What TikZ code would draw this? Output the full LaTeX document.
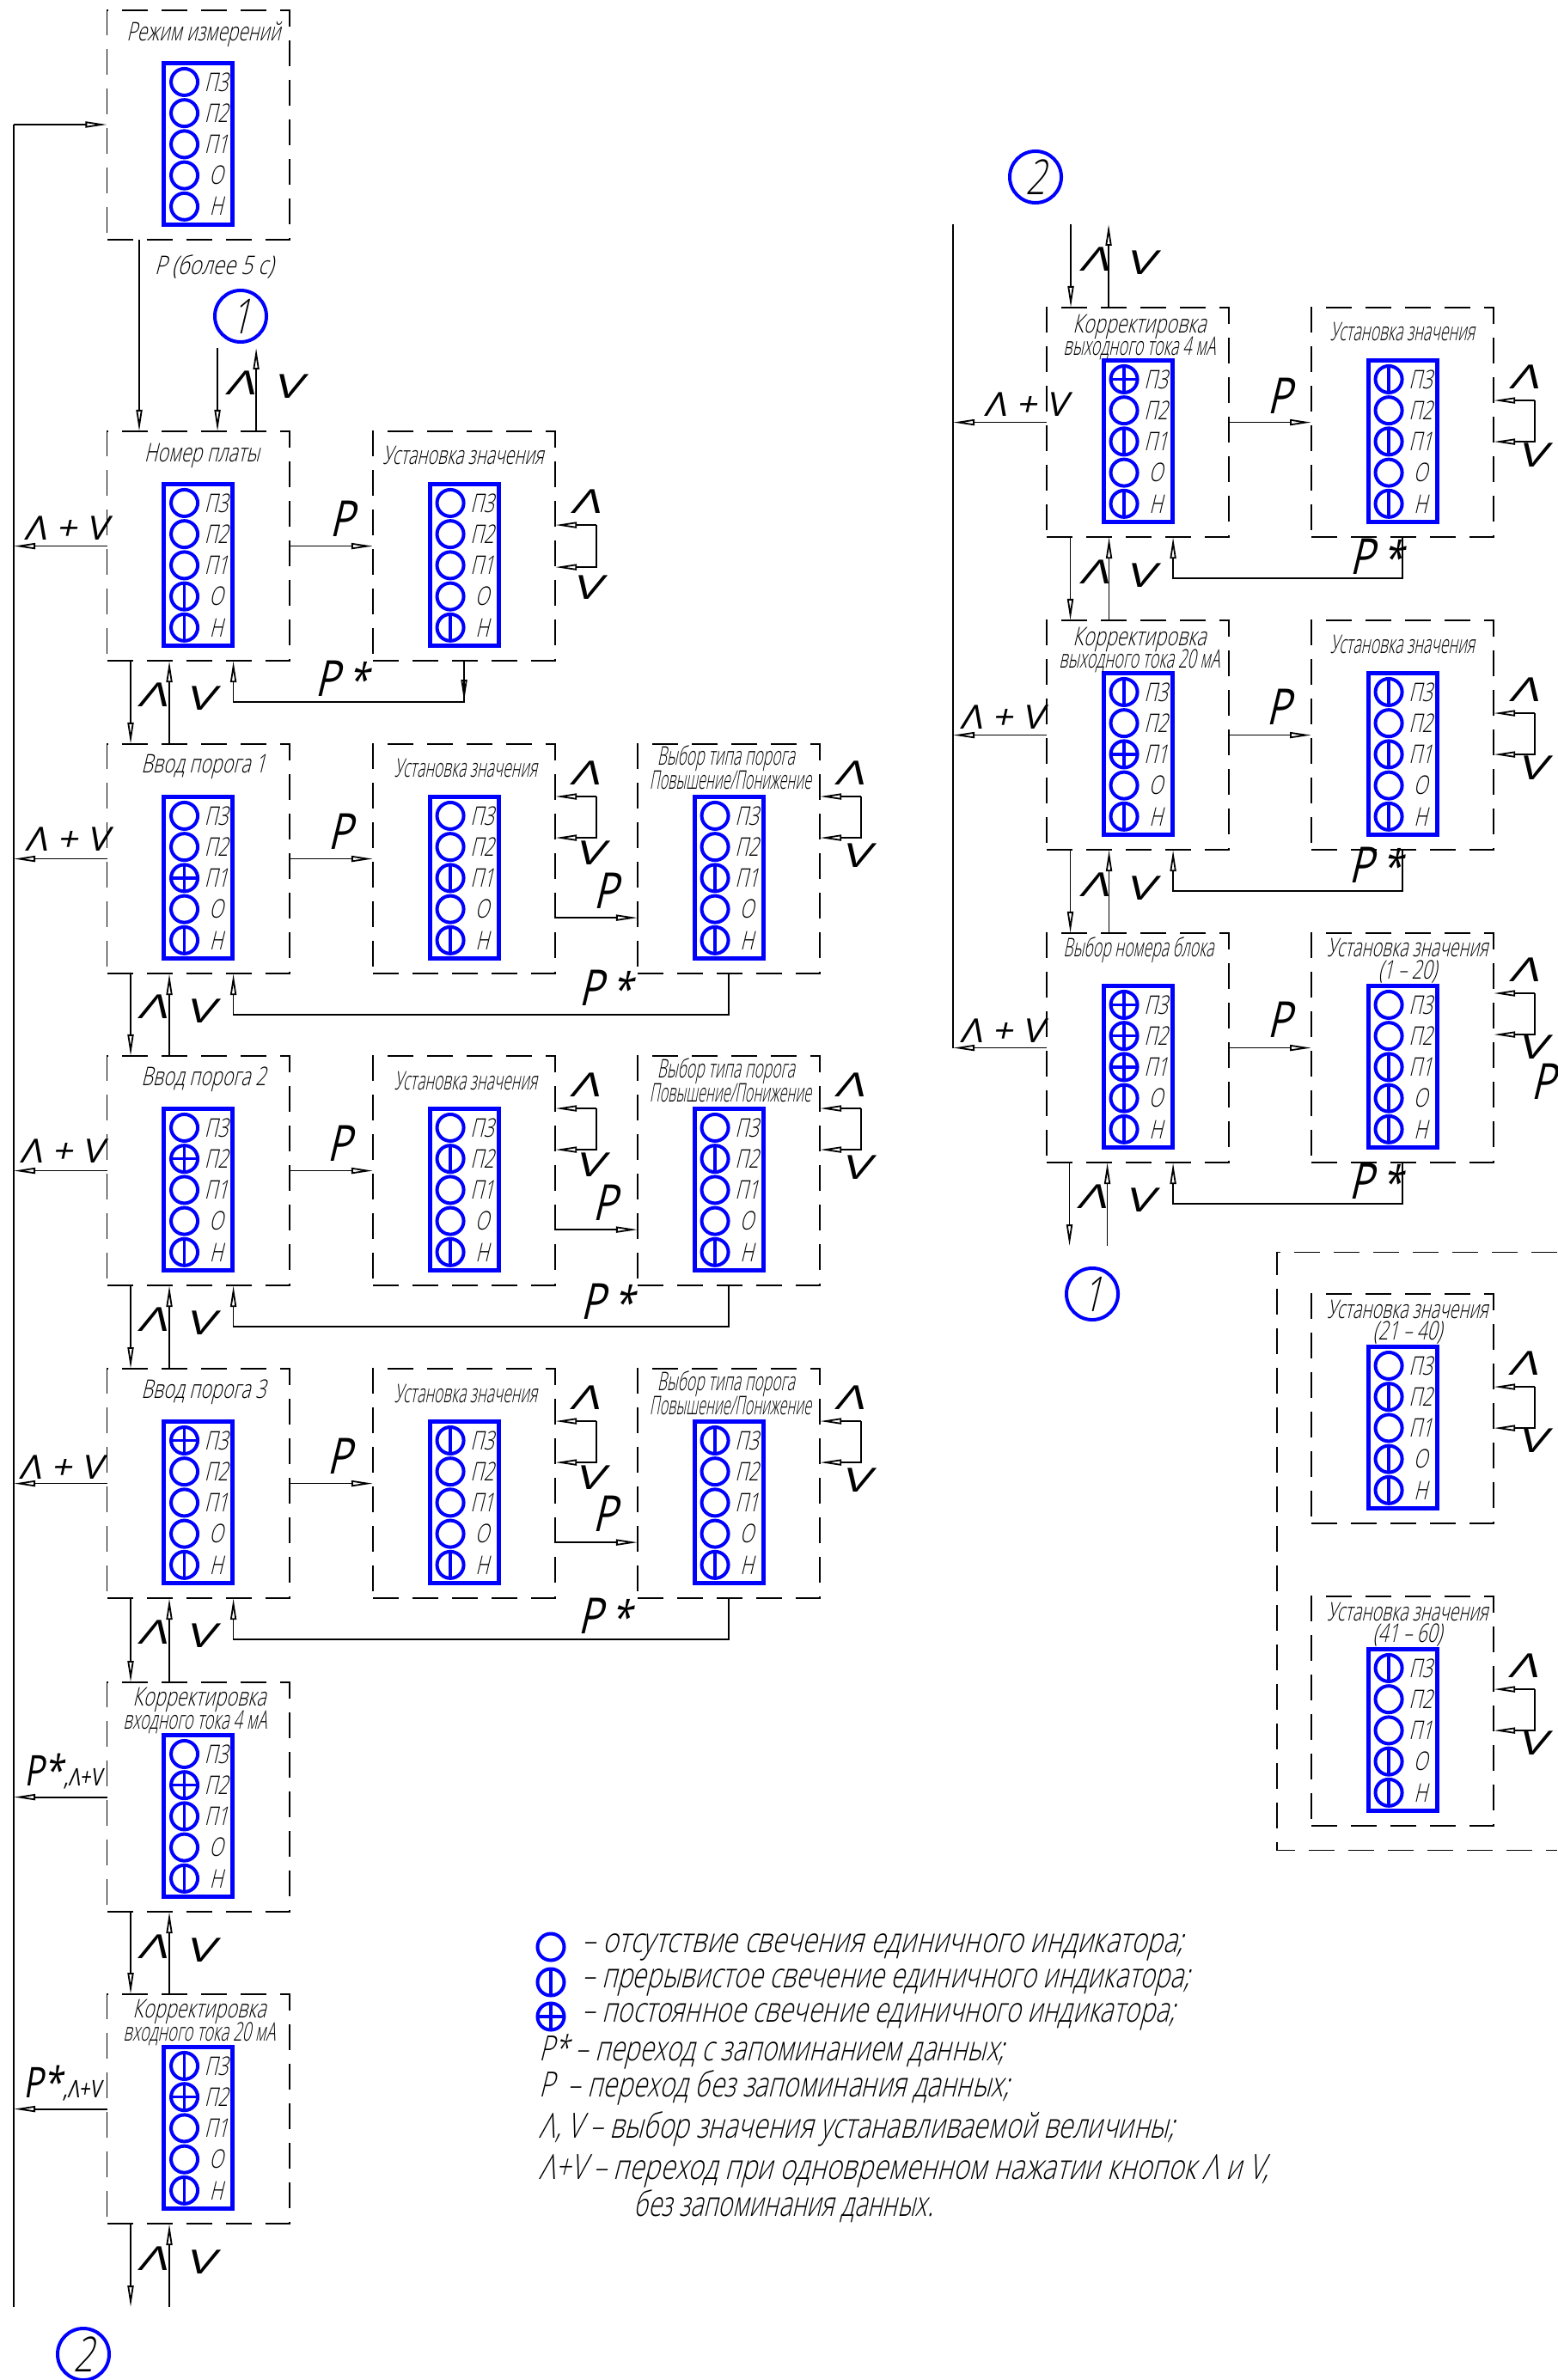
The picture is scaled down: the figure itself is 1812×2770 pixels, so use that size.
\documentclass[tikz,border=0pt]{standalone}
\usepackage{fontspec}
\usepackage{graphicx}
\usetikzlibrary{arrows.meta}
\newfontfamily\gostfont[FakeSlant=.24,FakeStretch=.72]{Open Sans Light}
\newfontfamily\bigfont[FakeSlant=.24,FakeStretch=.8]{Open Sans}
\newfontfamily\keyfont[FakeSlant=.2]{Open Sans}
\newcommand\fitw[2]{\resizebox{#1cm}{\height}{#2}}
\tikzset{
  modebox/.style={draw,dash pattern=on .30cm off .16cm,line width=.018cm,minimum width=2.12cm,minimum height=2.67cm,inner sep=0pt,outer sep=0pt,anchor=north west},
  ledpanel/.style={draw=blue,line width=.05cm,minimum width=.8cm,minimum height=1.88cm,inner sep=0pt},
  ledoff/.style={circle,draw=blue,line width=.04cm,minimum size=.31cm,inner sep=0pt},
  ledblink/.style={ledoff,path picture={\draw[blue,line width=.035cm] (path picture bounding box.north) -- (path picture bounding box.south);}},
  ledcross/.style={ledoff,path picture={\draw[blue,line width=.035cm] (path picture bounding box.north) -- (path picture bounding box.south) (path picture bounding box.west) -- (path picture bounding box.east);}},
  ledlabel/.style={inner sep=0pt,font=\gostfont\fontsize{8.5}{8.5}\selectfont},
  titletext/.style={inner sep=0pt,font=\gostfont\fontsize{8.5}{9}\selectfont},
  keytext/.style={inner sep=0pt,font=\keyfont\fontsize{11}{11}\selectfont},
  bigtext/.style={inner sep=0pt,font=\bigfont\fontsize{16.5}{16.5}\selectfont},
  legendtext/.style={inner sep=0pt,anchor=west,font=\gostfont\fontsize{11.5}{12}\selectfont},
  refmark/.style={circle,draw=blue,line width=.04cm,minimum size=.6cm,inner sep=0pt,font=\gostfont\fontsize{16}{16}\selectfont},
  flow/.style={line width=.018cm,-{Triangle[open,length=.25cm,width=.07cm]}}
}
\newcommand\modepanel[4]{%
  \node[modebox] (#1) at (#2,#3) {};
  \node[ledpanel] (#1p) at ([yshift=-1.555cm]#1.north) {};
  \foreach \st [count=\i from 0] in {#4} {
    \node[led\st] (#1l\i) at ([xshift=-.16cm,yshift=-.834cm-\i*.362cm]#1.north) {};
  }
  \foreach \tx [count=\i from 0] in {П3,П2,П1,О,Н} {
    \node[ledlabel] (#1t\i) at ([xshift=.37cm]#1l\i.center) {\tx};
  }
}
% side buttons, offsets from the top of the box
\newcommand\sideloop[3]{%
  \coordinate (#1u) at ([yshift=-#2cm]#1.north east);
  \coordinate (#1d) at ([yshift=-#3cm]#1.north east);
  \draw[flow] ([xshift=.48cm]#1u) -- (#1u);
  \draw[flow] ([xshift=.48cm]#1u) -- ([xshift=.48cm]#1d) -- (#1d);
}
\newcommand\updown[2]{%
  \draw[flow] ([xshift=.275cm]#1.south west) -- ([xshift=.275cm]#2.north west);
  \draw[flow] ([xshift=.725cm]#2.north west) -- ([xshift=.725cm]#1.south west);
}
\newcommand\pstar[2]{%
  \draw[flow] (#1.south) -- ++(0,48) -| ([xshift=1.47cm]#2.south west);
}
\begin{document}
\begin{tikzpicture}[x=.01cm,y=-.01cm]
\useasboundingbox (0,0) rectangle (1812,2770);
\coordinate (busL) at (16,145);
\coordinate (busR) at (1109,261);

% left column
\modepanel{m0}{124.5}{12}{off,off,off,off,off}
\modepanel{m1}{124.5}{502}{off,off,off,blink,blink}
\modepanel{s1}{434}{502}{off,off,off,off,blink}
\modepanel{m2}{124.5}{866}{off,off,cross,off,blink}
\modepanel{s2}{434}{866}{off,off,blink,off,blink}
\modepanel{k2}{742}{866}{off,off,blink,off,blink}
\modepanel{m3}{124.5}{1229}{off,cross,off,off,blink}
\modepanel{s3}{434}{1229}{off,blink,off,off,blink}
\modepanel{k3}{742}{1229}{off,blink,off,off,blink}
\modepanel{m4}{124.5}{1593}{cross,off,off,off,blink}
\modepanel{s4}{434}{1593}{blink,off,off,off,blink}
\modepanel{k4}{742}{1593}{blink,off,off,off,blink}
\modepanel{m5}{124.5}{1958}{off,cross,blink,off,blink}
\modepanel{m6}{124.5}{2321}{blink,cross,off,off,blink}

% right column
\modepanel{r1}{1218}{358}{cross,off,blink,off,blink}
\modepanel{t1}{1526}{358}{blink,off,blink,off,blink}
\modepanel{r2}{1218}{722}{blink,off,cross,off,blink}
\modepanel{t2}{1526}{722}{blink,off,blink,off,blink}
\modepanel{r3}{1218}{1086}{cross,cross,cross,blink,blink}
\modepanel{t3}{1526}{1086}{off,off,blink,blink,blink}
\modepanel{u1}{1526}{1506}{off,blink,off,blink,blink}
\modepanel{u2}{1526}{1858}{blink,off,off,blink,blink}
\draw[modebox] (1812,1457.5) -- (1486,1457.5) -- (1486,2153.5) -- (1812,2153.5);

% titles
\node[titletext] (h0) at (237,40) {\fitw{1.79}{Режим измерений}};
\node[titletext] (h1) at (235,530) {\fitw{1.34}{Номер платы}};
\node[titletext] (h1s) at (539,530) {\fitw{1.87}{Установка значения}};
\foreach \nm/\yy/\ttl in {2/892/Ввод порога 1,3/1256/Ввод порога 2,4/1620/Ввод порога 3} {
  \node[titletext] (h\nm) at (237,\yy) {\fitw{1.45}{\ttl}};
  \node[titletext] (h\nm s) at (542,\yy+2) {\fitw{1.66}{Установка значения}};
  \node[titletext] (h\nm a) at (845,\yy-9) {\fitw{1.6}{Выбор типа порога}};
  \node[titletext] (h\nm b) at (850,\yy+16) {\fitw{1.88}{Повышение/Понижение}};
}
\node[titletext] (h5a) at (232,1978) {\fitw{1.55}{Корректировка}};
\node[titletext] (h5b) at (227,2004) {\fitw{1.67}{входного тока 4 мА}};
\node[titletext] (h6a) at (232,2341) {\fitw{1.55}{Корректировка}};
\node[titletext] (h6b) at (232,2367) {\fitw{1.77}{входного тока 20 мА}};
\node[titletext] (g1a) at (1326,380) {\fitw{1.55}{Корректировка}};
\node[titletext] (g1b) at (1326,405) {\fitw{1.77}{выходного тока 4 мА}};
\node[titletext] (g2a) at (1326,744) {\fitw{1.55}{Корректировка}};
\node[titletext] (g2b) at (1326,769) {\fitw{1.87}{выходного тока 20 мА}};
\node[titletext] (g3) at (1325,1106) {\fitw{1.75}{Выбор номера блока}};
\node[titletext] (q1) at (1632,386) {\fitw{1.68}{Установка значения}};
\node[titletext] (q2) at (1632,750) {\fitw{1.68}{Установка значения}};
\node[titletext] (q3a) at (1638,1103) {\fitw{1.87}{Установка значения}};
\node[titletext] (q3b) at (1638,1131) {\fitw{.68}{(1 – 20)}};
\node[titletext] (q4a) at (1638,1524) {\fitw{1.87}{Установка значения}};
\node[titletext] (q4b) at (1638,1551) {\fitw{.8}{(21 – 40)}};
\node[titletext] (q5a) at (1638,1876) {\fitw{1.87}{Установка значения}};
\node[titletext] (q5b) at (1638,1903) {\fitw{.8}{(41 – 60)}};

% left bus
\draw[flow] (busL) -- (m0.west |- busL);
\draw[line width=.018cm] (busL) -- (16,2685);
\foreach \nm in {m1,m2,m3,m4,m5,m6} {
  \draw[flow] (\nm.west) -- (\nm.west -| busL);
}
\draw[line width=.018cm] (busR) -- (busR |- r3.west);
\foreach \nm in {r1,r2,r3} {
  \draw[flow] (\nm.west) -- (\nm.west -| busR);
}

% moves between the modes
\draw[flow] ([xshift=.375cm]m0.south west) -- ([xshift=.375cm]m1.north west);
\draw[flow] ([xshift=1.285cm,yshift=.97cm]m1.north west) -- ([xshift=1.285cm]m1.north west);
\draw[flow] ([xshift=1.735cm]m1.north west) -- ([xshift=1.735cm,yshift=.97cm]m1.north west);
\updown{m1}{m2}
\updown{m2}{m3}
\updown{m3}{m4}
\updown{m4}{m5}
\updown{m5}{m6}
\draw[flow] ([xshift=.275cm]m6.south west) -- ([xshift=.275cm,yshift=-.97cm]m6.south west);
\draw[flow] ([xshift=.725cm,yshift=-.97cm]m6.south west) -- ([xshift=.725cm]m6.south west);
\draw[flow] ([xshift=.28cm,yshift=.97cm]r1.north west) -- ([xshift=.28cm]r1.north west);
\draw[flow] ([xshift=.72cm]r1.north west) -- ([xshift=.72cm,yshift=.97cm]r1.north west);
\updown{r1}{r2}
\updown{r2}{r3}
\draw[flow] ([xshift=.265cm]r3.south west) -- ([xshift=.265cm,yshift=-.97cm]r3.south west);
\draw[flow] ([xshift=.705cm,yshift=-.97cm]r3.south west) -- ([xshift=.705cm]r3.south west);

% P and P*
\foreach \aa/\bb in {m1/s1,m2/s2,m3/s3,m4/s4,r1/t1,r2/t2,r3/t3} {
  \draw[flow] (\aa.east) -- (\bb.west);
}
\foreach \aa/\bb in {s2/k2,s3/k3,s4/k4} {
  \draw[flow] ([yshift=-2.02cm]\aa.north east) -- ([yshift=-2.02cm]\bb.north west);
}
\draw[flow] (s1.south) -- ++(0,47);
\pstar{s1}{m1}
\pstar{k2}{m2}
\pstar{k3}{m3}
\pstar{k4}{m4}
\pstar{t1}{r1}
\pstar{t2}{r2}
\pstar{t3}{r3}

% side buttons
\sideloop{s1}{1.09}{1.58}
\sideloop{s2}{.61}{1.09}
\sideloop{k2}{.61}{1.09}
\sideloop{s3}{.61}{1.09}
\sideloop{k3}{.61}{1.09}
\sideloop{s4}{.61}{1.09}
\sideloop{k4}{.61}{1.09}
\sideloop{t1}{1.08}{1.56}
\sideloop{t2}{1.08}{1.56}
\sideloop{t3}{.7}{1.18}
\sideloop{u1}{1.08}{1.56}
\sideloop{u2}{1.08}{1.56}

% button labels
\foreach \nm/\xx/\yy in {a1/682/584,a2/680/900,a3/988/900,a4/680/1263,a5/988/1263,a6/680/1627,a7/988/1627,
    a8/280/446,a9/178/809,a10/178/1172,a11/178/1536,a12/178/1900,a13/178/2266,a14/178/2629,
    a15/1273/302,a16/1273/666,a17/1273/1030,a18/1270/1393,a19/1773/439,a20/1773/803,a21/1773/1129,a22/1772/1587,a23/1772/1939} {
  \node[keytext] (\nm) at (\xx,\yy) {\fitw{.34}{Λ}};
}
\foreach \nm/\xx/\yy in {v1/683/684,v2/686/993,v3/995/996,v4/686/1356,v5/995/1359,v6/686/1720,v7/995/1723,
    v8/335/450,v9/233/813,v10/233/1177,v11/233/1540,v12/233/1904,v13/233/2270,v14/233/2633,
    v15/1326/306,v16/1326/670,v17/1326/1034,v18/1325/1397,v19/1782/530,v20/1782/894,v21/1782/1219,v22/1782/1677,v23/1782/2029} {
  \node[keytext] (\nm) at (\xx,\yy) {\fitw{.34}{V}};
}
\foreach \nm/\xx/\yy in {c1/77/615,c2/78/977,c3/72/1340,c4/71/1708,c5/1194/471,c6/1166/835,c7/1166/1200} {
  \node[keytext] (\nm) at (\xx,\yy) {\fitw{.97}{Λ + V}};
}
\node[keytext] (c8) at (74,2062) {\fitw{.9}{\fontsize{14}{14}\selectfont P*\fontsize{8}{8}\selectfont,Λ+V}};
\node[keytext] (c9) at (73,2425) {\fitw{.9}{\fontsize{14}{14}\selectfont P*\fontsize{8}{8}\selectfont,Λ+V}};

\node[titletext] (p0) at (249,310) {\fitw{1.38}{P (более 5 с)}};
\foreach \nm/\xx/\yy in {p1/397/604,p2/395/968,p3/394/1331,p4/394/1695,p5/704/1037,p6/703/1400,p7/703/1762,p8/1488/461,p9/1487/823,p10/1488/1187,p11/1795/1259} {
  \node[bigtext] (\nm) at (\xx,\yy) {P};
}
\foreach \nm/\xx/\yy in {w1/397/790,w2/704/1150,w3/706/1515,w4/703/1881,w5/1601/648,w6/1600/1007,w7/1600/1375} {
  \node[bigtext] (\nm) at (\xx,\yy) {P\,{\fontsize{15}{15}\selectfont *}};
}

% marks
\node[refmark] (ref1a) at (280,368) {1};
\node[refmark] (ref2a) at (97,2740) {2};
\node[refmark] (ref2b) at (1205,206) {2};
\node[refmark] (ref1b) at (1271,1506) {1};

% legend
\node[ledoff] (k1) at (641,2266) {};
\node[ledblink] (k2m) at (641,2307) {};
\node[ledcross] (k3m) at (641,2347) {};
\node[legendtext] (l1) at (677,2266) {\fitw{6.99}{– отсутствие свечения единичного индикатора;}};
\node[legendtext] (l2) at (677,2307) {\fitw{7.06}{– прерывистое свечение единичного индикатора;}};
\node[legendtext] (l3) at (677,2347) {\fitw{6.89}{– постоянное свечение единичного индикатора;}};
\node[legendtext] (l4) at (627,2388) {\fitw{5.41}{P* – переход с запоминанием данных;}};
\node[legendtext] (l5) at (627,2430) {\fitw{5.47}{P\ \ – переход без запоминания данных;}};
\node[legendtext] (l6) at (627,2478) {\fitw{7.39}{Λ, V – выбор значения устанавливаемой величины;}};
\node[legendtext] (l7) at (627,2527) {\fitw{8.48}{Λ+V – переход при одновременном нажатии кнопок Λ и V,}};
\node[legendtext] (l8) at (737,2568) {\fitw{3.48}{без запоминания данных.}};
\end{tikzpicture}
\end{document}
